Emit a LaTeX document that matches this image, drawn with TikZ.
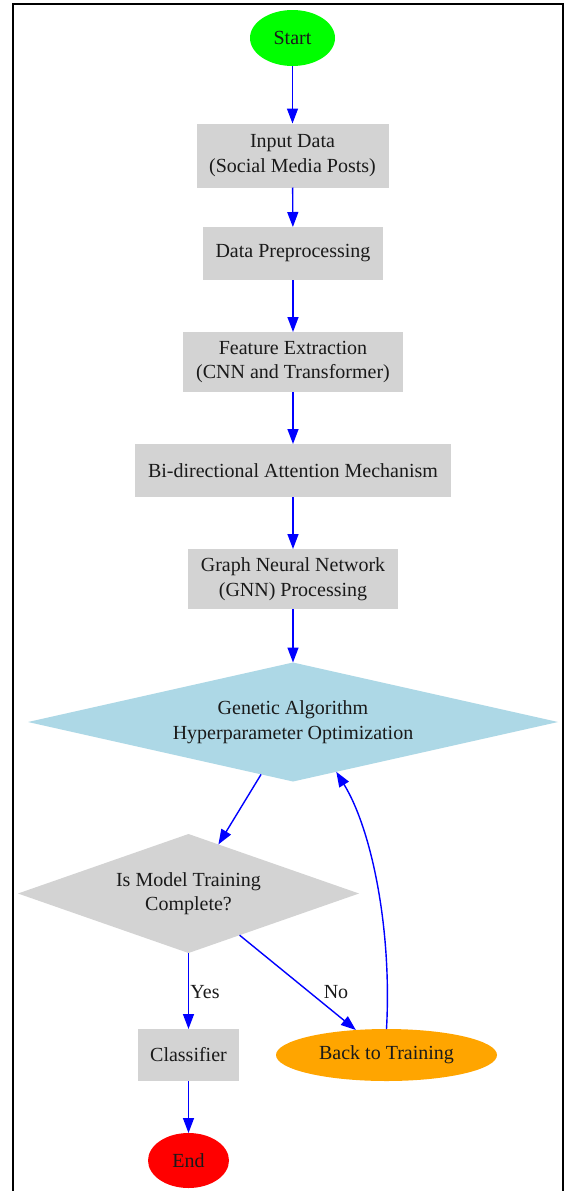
\documentclass[tikz,border=0pt]{standalone}
\usepackage{fontspec}
\setmainfont{Liberation Serif}
\usetikzlibrary{shapes.geometric,arrows.meta}
\definecolor{boxgray}{HTML}{D3D3D3}
\definecolor{lblue}{HTML}{ADD8E6}
\definecolor{startgreen}{HTML}{00FF00}
\definecolor{endred}{HTML}{FF0000}
\definecolor{orng}{HTML}{FFA500}
\definecolor{edgeblue}{HTML}{0000FF}
\definecolor{txt}{HTML}{1A1A1A}
\begin{document}
\begin{tikzpicture}[x=1pt,y=-1pt,
  every node/.style={font=\fontsize{20}{24.5}\selectfont, text=txt, align=center, inner sep=0pt, outer sep=0pt},
  procbox/.style={rectangle, fill=boxgray},
  termnode/.style={ellipse, fill=#1},
  decision/.style={diamond, fill=#1, shape aspect=4.4},
  flow/.style={draw=edgeblue, line width=1.4pt, -{Triangle[length=15pt,width=11pt]}},
  edgelabel/.style={font=\fontsize{20}{24.5}\selectfont, text=txt}
]
\useasboundingbox (0,0) rectangle (564,1191);
\fill[white] (0,0) rectangle (564,1191);
\draw[line width=2pt, black] (13,1200) -- (13,4) -- (563,4) -- (563,1200);

\node[termnode=startgreen, minimum width=85, minimum height=56] (start) at (292.5,38) {Start};
\node[procbox, minimum width=192, minimum height=64] (input) at (292.5,155.5) {Input Data\\(Social Media Posts)};
\node[procbox, minimum width=180, minimum height=53] (prep) at (293,253.5) {Data Preprocessing};
\node[procbox, minimum width=220, minimum height=60] (feat) at (293,362) {Feature Extraction\\(CNN and Transformer)};
\node[procbox, minimum width=316, minimum height=53] (bidir) at (293,470.5) {Bi-directional Attention Mechanism};
\node[procbox, minimum width=210, minimum height=60] (gnn) at (293,579) {Graph Neural Network\\(GNN) Processing};
\node[decision=lblue, minimum width=530, minimum height=119] (gen) at (293,722) {Genetic Algorithm\\Hyperparameter Optimization};
\node[decision=boxgray, minimum width=341, minimum height=119, shape aspect=2.9] (ism) at (188.5,893.5) {Is Model Training\\Complete?};
\node[procbox, minimum width=101, minimum height=52] (cls) at (188.5,1055) {Classifier};
\node[termnode=orng, minimum width=221, minimum height=52] (btt) at (386.5,1055) {Back to Training};
\node[termnode=endred, minimum width=81, minimum height=55] (end) at (188.5,1160.5) {End};

\draw[flow] (start) -- (input);
\draw[flow] (input) -- (prep);
\draw[flow] (prep) -- (feat);
\draw[flow] (feat) -- (bidir);
\draw[flow] (bidir) -- (gnn);
\draw[flow] (gnn) -- (gen);
\draw[flow] (gen) -- (ism);
\draw[flow] (ism) -- (cls);
\draw[flow] (ism) -- (btt);
\draw[flow] (cls) -- (end);
\draw[flow] (btt.north) .. controls (392,930) and (372,830) .. (gen.-49);

\node[edgelabel] (yes) at (205,992) {Yes};
\node[edgelabel] (no) at (336,992) {No};
\end{tikzpicture}
\end{document}
